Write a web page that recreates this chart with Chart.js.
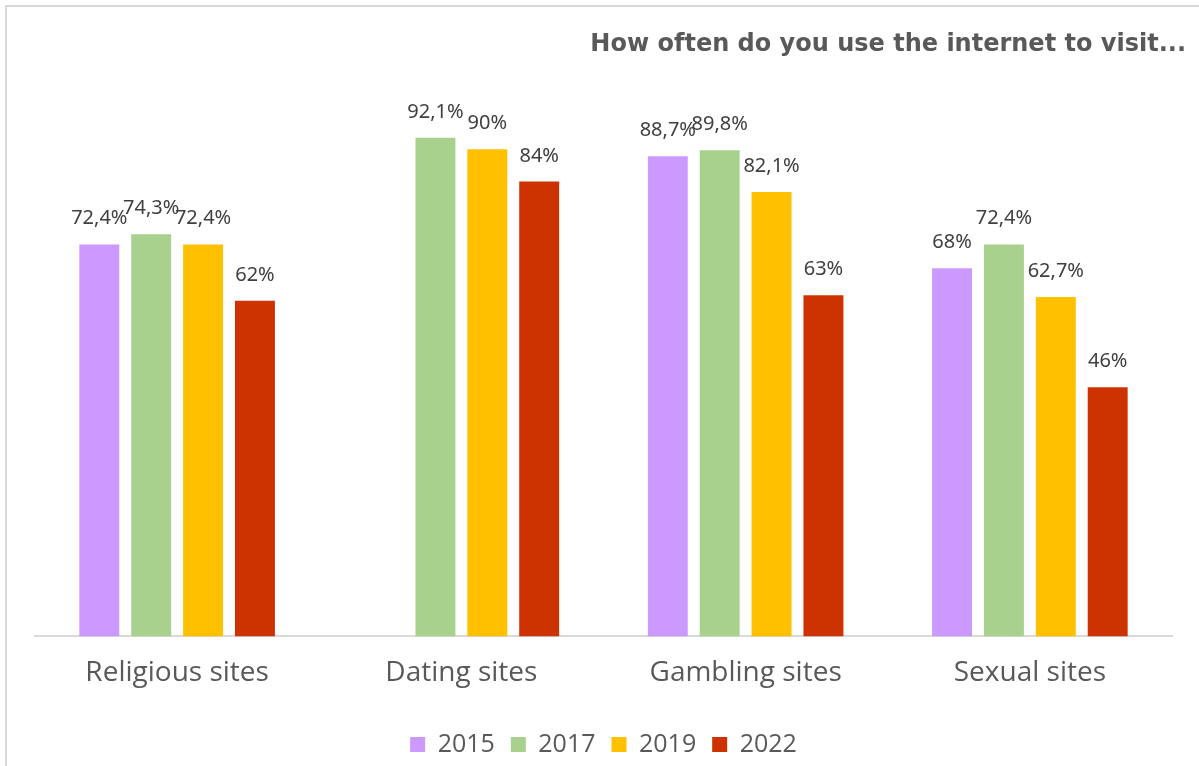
<!DOCTYPE html>
<html>
<head>
<meta charset="utf-8">
<script src="https://cdn.jsdelivr.net/npm/chart.js@4"></script>
<style>
  html, body { margin: 0; padding: 0; background: #fff; }
  #wrap { position: relative; width: 1199px; height: 766px; overflow: hidden; }
  #frame { position: absolute; left: 5px; top: 5px; width: 1300px; height: 900px;
           border-left: 2px solid #d9d9d9; border-top: 2px solid #d9d9d9; }
  canvas { position: absolute; left: 0; top: 0; }
</style>
</head>
<body>
<div id="wrap">
  <div id="frame"></div>
  <canvas id="visitChart" width="1199" height="766"></canvas>
</div>
<script>
const categories = ['Religious sites', 'Dating sites', 'Gambling sites', 'Sexual sites'];
const years = ['2015', '2017', '2019', '2022'];
const values2015 = [72.4, null, 88.7, 68];
const values2017 = [74.3, 92.1, 89.8, 72.4];
const values2019 = [72.4, 90, 82.1, 62.7];
const values2022 = [62, 84, 63, 46];
const colors = ['#CC99FF', '#A9D18E', '#FFC000', '#CC3300'];
const titleText = 'How often do you use the internet to visit...';

const series = [values2015, values2017, values2019, values2022];

// value labels above each bar, decimal comma
const barLabels = {
  id: 'barLabels',
  afterDatasetsDraw(chart) {
    const ctx = chart.ctx;
    ctx.save();
    ctx.font = '20px "Noto Sans", sans-serif';
    ctx.fillStyle = '#404040';
    ctx.textAlign = 'center';
    ctx.textBaseline = 'alphabetic';
    chart.data.datasets.forEach((ds, i) => {
      const meta = chart.getDatasetMeta(i);
      meta.data.forEach((bar, j) => {
        const v = ds.data[j];
        if (v === null) return;
        ctx.fillText(String(v).replace('.', ',') + '%', bar.x, bar.y - 20);
      });
    });
    ctx.restore();
  }
};

// right-aligned bold heading in the top margin
const cornerTitle = {
  id: 'cornerTitle',
  afterDraw(chart) {
    const ctx = chart.ctx;
    ctx.save();
    ctx.font = 'bold 24px "DejaVu Sans", sans-serif';
    ctx.fillStyle = '#595959';
    ctx.textAlign = 'right';
    ctx.textBaseline = 'middle';
    ctx.fillText(titleText, 1186, 45);
    ctx.restore();
  }
};

new Chart(document.getElementById('visitChart').getContext('2d'), {
  type: 'bar',
  data: {
    labels: categories,
    datasets: series.map((data, i) => ({
      label: years[i],
      data,
      backgroundColor: colors[i],
      barPercentage: 0.77,
      categoryPercentage: 0.73
    }))
  },
  options: {
    responsive: false,
    animation: false,
    layout: { padding: { left: 35, right: 27, top: 95, bottom: -1 } },
    scales: {
      y: { display: false, min: 0, max: 100 },
      x: {
        grid: { display: false },
        border: { color: '#d9d9d9', width: 2 },
        ticks: {
          color: '#595959',
          font: { family: '"Open Sans", sans-serif', size: 28 },
          padding: 12
        },
        afterFit(scale) { scale.height += 14; }
      }
    },
    plugins: {
      legend: {
        position: 'bottom',
        labels: {
          boxWidth: 15,
          boxHeight: 15,
          padding: 16,
          color: '#595959',
          font: { family: '"Open Sans", sans-serif', size: 25 }
        }
      },
      tooltip: { enabled: false }
    }
  },
  plugins: [barLabels, cornerTitle]
});
</script>
</body>
</html>
